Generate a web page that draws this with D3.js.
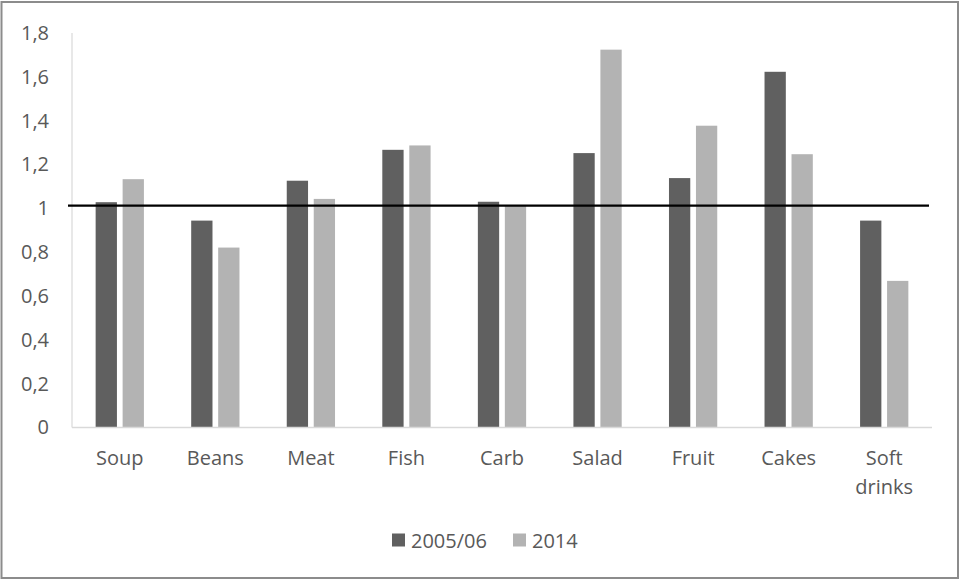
<!DOCTYPE html>
<html>
<head>
<meta charset="utf-8">
<script src="https://cdn.jsdelivr.net/npm/d3@7"></script>
<style>
  html, body { margin: 0; padding: 0; background: #fff; }
  svg { display: block; }
  text { font-family: "Open Sans", sans-serif; fill: #595959; }
</style>
</head>
<body>
<svg id="chart" width="961" height="580"></svg>
<script>
// Food categories and the ratio for each survey period
const categories = ["Soup", "Beans", "Meat", "Fish", "Carb", "Salad", "Fruit", "Cakes", "Soft drinks"];
const seriesNames = ["2005/06", "2014"];
const values2005 = [1.028, 0.944, 1.126, 1.267, 1.030, 1.252, 1.138, 1.623, 0.944];
const values2014 = [1.133, 0.821, 1.043, 1.287, 1.012, 1.724, 1.377, 1.247, 0.669];
const yTicks = [0, 0.2, 0.4, 0.6, 0.8, 1, 1.2, 1.4, 1.6, 1.8];
const referenceLevel = 1.012;
const colors = ["#606060", "#b3b3b3"];

const svg = d3.select("#chart");
const W = 961, H = 580;
const plot = { left: 72, right: 932, top: 33, bottom: 427.5 };

// outer frame
svg.append("rect")
  .attr("x", 1.5).attr("y", 2).attr("width", W - 4.5).attr("height", H - 4)
  .attr("fill", "none").attr("stroke", "#8c8c8c").attr("stroke-width", 2);

const x = d3.scaleBand().domain(categories).range([plot.left, plot.right]).padding(0);
const xSub = d3.scaleBand().domain(seriesNames).range([0, x.bandwidth()])
  .paddingInner(0.211).paddingOuter(0.876);
const y = d3.scaleLinear().domain([0, 1.8]).range([plot.bottom, plot.top]);

// y axis: labels only, plus a light axis line
const yAxis = svg.append("g").attr("transform", `translate(${plot.left},0)`)
  .call(d3.axisLeft(y).tickValues(yTicks).tickSize(0).tickPadding(23)
    .tickFormat(d => d3.format("~g")(d).replace(".", ",")));
yAxis.select(".domain").remove();
yAxis.selectAll("text").attr("font-size", 20).attr("font-family", "Open Sans, sans-serif")
  .attr("fill", "#595959");

svg.append("line")
  .attr("x1", plot.left).attr("x2", plot.left)
  .attr("y1", y(1.8)).attr("y2", plot.bottom)
  .attr("stroke", "#d9d9d9").attr("stroke-width", 1.2);

// bars
const rows = categories.map((c, i) => ({ cat: c, vals: [values2005[i], values2014[i]] }));
const groups = svg.append("g").selectAll("g").data(rows).join("g")
  .attr("transform", d => `translate(${x(d.cat)},0)`);
groups.selectAll("rect")
  .data(d => d.vals.map((v, j) => ({ name: seriesNames[j], v, j })))
  .join("rect")
  .attr("x", d => xSub(d.name))
  .attr("width", xSub.bandwidth())
  .attr("y", d => y(d.v))
  .attr("height", d => y(0) - y(d.v))
  .attr("fill", d => colors[d.j]);

// category axis line
svg.append("line")
  .attr("x1", plot.left).attr("x2", plot.right)
  .attr("y1", plot.bottom).attr("y2", plot.bottom)
  .attr("stroke", "#d9d9d9").attr("stroke-width", 1.5);

// category labels, two-word names wrap onto a second line
const xAxis = svg.append("g");
categories.forEach(c => {
  const cx = x(c) + x.bandwidth() / 2;
  c.split(" ").forEach((w, k) => {
    xAxis.append("text")
      .attr("x", cx)
      .attr("y", 465 + k * 29)
      .attr("text-anchor", "middle")
      .attr("font-size", 20)
      .text(w);
  });
});

// reference line
svg.append("line")
  .attr("x1", 68).attr("x2", 929)
  .attr("y1", y(referenceLevel)).attr("y2", y(referenceLevel))
  .attr("stroke", "#000").attr("stroke-width", 2.2);

// legend
const legend = svg.append("g");
const legendItems = [{ name: seriesNames[0], x: 392 }, { name: seriesNames[1], x: 513 }];
legendItems.forEach((item, i) => {
  legend.append("rect")
    .attr("x", item.x).attr("y", 533.5).attr("width", 13).attr("height", 13)
    .attr("fill", colors[i]);
  legend.append("text")
    .attr("x", item.x + 19).attr("y", 547.5)
    .attr("font-size", 20).text(item.name);
});
</script>
</body>
</html>
